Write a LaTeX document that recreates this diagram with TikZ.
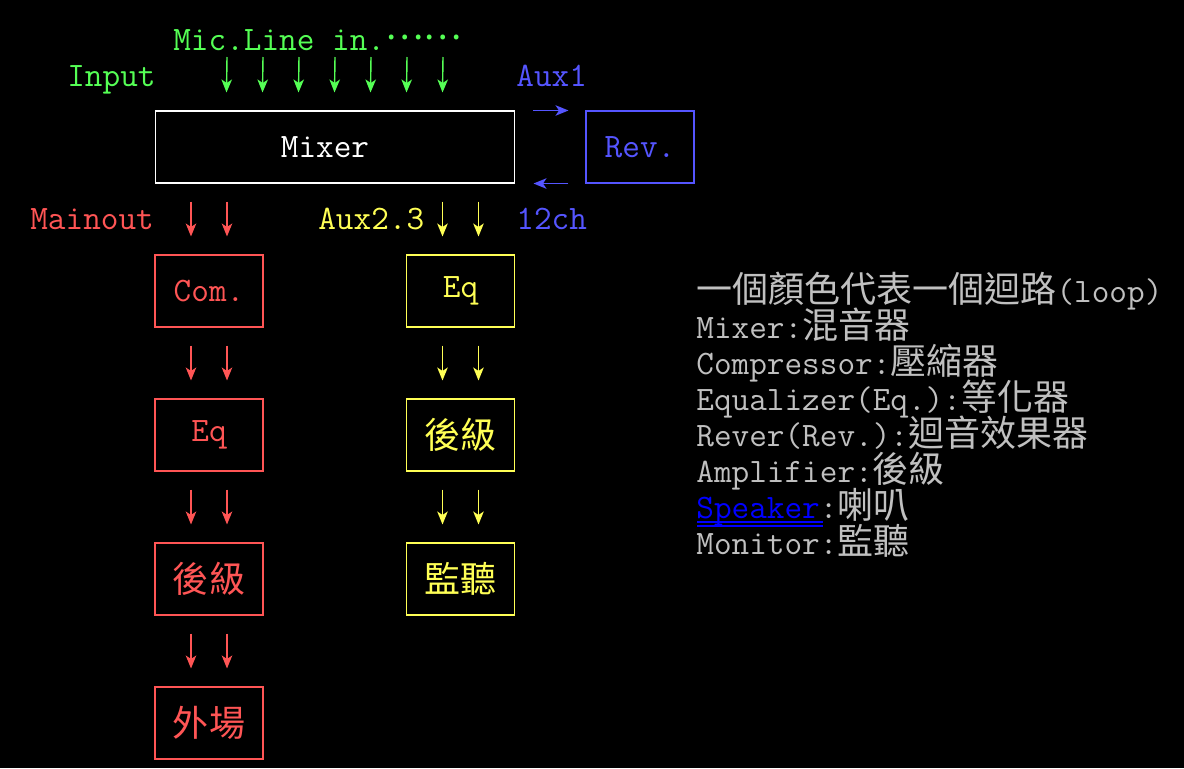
\documentclass[tikz,border=0pt]{standalone}
\usepackage{xcolor}
\usepackage{fontspec}
\usepackage{tikz}
\usetikzlibrary{calc,arrows.meta}

\newfontfamily\cjk{Noto Sans CJK TC}

\definecolor{ingreen}{RGB}{85,255,85}
\definecolor{mainred}{RGB}{255,85,85}
\definecolor{auxyellow}{RGB}{255,255,85}
\definecolor{auxblue}{RGB}{85,85,255}
\definecolor{notegray}{RGB}{192,192,192}
\definecolor{linkblue}{RGB}{0,0,255}

\newcommand{\lat}{\ttfamily\fontsize{19.5}{24}\selectfont}
\newcommand{\zh}[1]{{\cjk\fontsize{20.5}{24}\selectfont #1}}
% two arrows from one box down to the next
\newcommand{\pair}[3]{%
  \foreach \dx in {-18,18}
    \draw[sig,#3] ($(#1.south -| #2.north)+(\dx,18)$) -- ($(#2.north)+(\dx,-18)$);}

\begin{document}
\begin{tikzpicture}[x=0.02cm, y=-0.02cm, font=\lat,
  box/.style={draw, line width=0.6pt, minimum width=2.16cm, minimum height=1.44cm, inner sep=0pt},
  sig/.style={line width=0.8pt, -{Stealth[length=2.6mm,width=2.1mm,inset=0.7mm]}},
  word/.style={inner sep=0pt, anchor=base west}]

  \fill[black] (0,0) rectangle (1184,768);
  \useasboundingbox (0,0) rectangle (1184,768);

  % mixer and reverb
  \node[box, draw=white, text=white, minimum width=7.2cm] (mixer) at (335,147) {\hspace*{-0.4cm}Mixer};
  \node[box, draw=auxblue, text=auxblue] (rev) at (640,147) {Rev.};

  % main out loop
  \node[box, draw=mainred, text=mainred] (com) at (209,291) {Com.};
  \node[box, draw=mainred, text=mainred] (eqa) at (209,435) {Eq};
  \node[box, draw=mainred, text=mainred] (ampa) at (209,579) {\zh{後級}};
  \node[box, draw=mainred, text=mainred] (hall) at (209,723) {\zh{外場}};

  % monitor loop
  \node[box, draw=auxyellow, text=auxyellow] (eqb) at (460.5,291) {Eq};
  \node[box, draw=auxyellow, text=auxyellow] (ampb) at (460.5,435) {\zh{後級}};
  \node[box, draw=auxyellow, text=auxyellow] (mon) at (460.5,579) {\zh{監聽}};

  % labels
  \node[word, text=ingreen] (mic) at (173,50) {Mic.Line in.\raisebox{0.32em}{\zh{……}}};
  \node[word, text=ingreen] (input) at (67,86) {Input};
  \node[word, text=auxblue] (aux1) at (516,86) {Aux1};
  \node[word, text=mainred] (mainout) at (30,229) {Mainout};
  \node[word, text=auxyellow] (aux23) at (318,229) {Aux2.3};
  \node[word, text=auxblue] (ch) at (516,229) {12ch};

  % inputs
  \foreach \i in {0,...,6} {
    \coordinate (in\i) at (227+36*\i,57);
    \draw[sig,ingreen] (in\i) -- ($(mixer.north west)+(72+36*\i,-18)$);
  }

  % aux1 send and return
  \draw[sig,auxblue] ($(mixer.north east)+(18,0)$) -- ($(rev.north west)+(-17,0)$);
  \draw[sig,auxblue] ($(rev.south west)+(-17,0)$) -- ($(mixer.south east)+(18,0)$);

  \pair{mixer}{com}{mainred}
  \pair{com}{eqa}{mainred}
  \pair{eqa}{ampa}{mainred}
  \pair{ampa}{hall}{mainred}
  \pair{mixer}{eqb}{auxyellow}
  \pair{eqb}{ampb}{auxyellow}
  \pair{ampb}{mon}{auxyellow}

  % legend
  \node[word, text=notegray] (legtitle) at (696,302)
    {\zh{一個顏色代表一個迴路}(loop)};
  \foreach \txt [count=\i] in {Mixer:\zh{混音器}, Compressor:\zh{壓縮器},
      Equalizer(Eq.):\zh{等化器}, Rever(Rev.):\zh{迴音效果器}, Amplifier:\zh{後級},
      \textcolor{linkblue}{Speaker}:\zh{喇叭}, Monitor:\zh{監聽}}
    \node[word, text=notegray] (leg\i) at (696,302+36*\i) {\txt};
  \draw[linkblue, line width=0.9pt] ($(leg6.base west)+(1,4)$) -- ++(126,0)
    ($(leg6.base west)+(1,8)$) -- ++(126,0);
\end{tikzpicture}
\end{document}
